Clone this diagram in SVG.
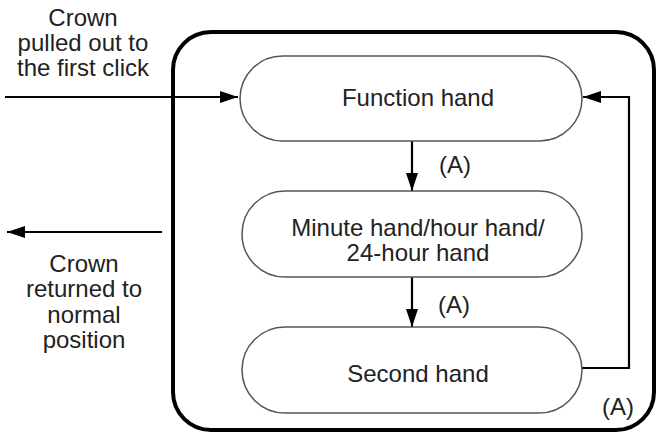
<svg xmlns="http://www.w3.org/2000/svg" width="658" height="437" viewBox="0 0 658 437">
<style>
text{font-family:"Liberation Sans",Arial,sans-serif;font-size:24px;fill:#222;text-anchor:middle}
.pill{fill:#fff;stroke:#555;stroke-width:1.5}
.c{fill:none;stroke:#000;stroke-width:2.2}
</style>
<defs>
<marker id="ah" markerUnits="userSpaceOnUse" viewBox="0 0 18 12" refX="18" refY="6" markerWidth="18" markerHeight="12" orient="auto">
<path d="M0,0 L18,6 L0,12 Z" fill="#000"/>
</marker>
</defs>
<rect fill="#fff" width="658" height="437"/>
<g id="frame">
<rect x="173" y="32" width="481" height="398" rx="38" fill="none" stroke="#000" stroke-width="4"/>
</g>
<g id="connectors">
<line class="c" x1="5" y1="97" x2="238" y2="97" marker-end="url(#ah)"/>
<line class="c" x1="162" y1="232" x2="7" y2="232" marker-end="url(#ah)"/>
<line class="c" x1="412" y1="141" x2="412" y2="191" marker-end="url(#ah)"/>
<line class="c" x1="412" y1="277" x2="412" y2="327" marker-end="url(#ah)"/>
<polyline class="c" points="582,368 629,368 629,97 583,97" marker-end="url(#ah)"/>
<text x="455" y="173">(A)</text>
<text x="454" y="313">(A)</text>
<text x="618" y="415">(A)</text>
</g>
<g id="n-function">
<rect class="pill" x="240" y="56" width="342" height="85" rx="42.5"/>
<text x="418" y="106">Function hand</text>
</g>
<g id="n-minute">
<rect class="pill" x="242" y="191" width="340" height="86" rx="43"/>
<text x="418" y="236">Minute hand/hour hand/</text>
<text x="418" y="261">24-hour hand</text>
</g>
<g id="n-second">
<rect class="pill" x="242" y="327" width="340" height="86" rx="43"/>
<text x="418" y="382">Second hand</text>
</g>
<g id="label-in">
<text x="83" y="26">Crown</text>
<text x="83" y="51">pulled out to</text>
<text x="83" y="76">the first click</text>
</g>
<g id="label-out">
<text x="84" y="272">Crown</text>
<text x="84" y="297">returned to</text>
<text x="84" y="323">normal</text>
<text x="84" y="348">position</text>
</g>
</svg>
